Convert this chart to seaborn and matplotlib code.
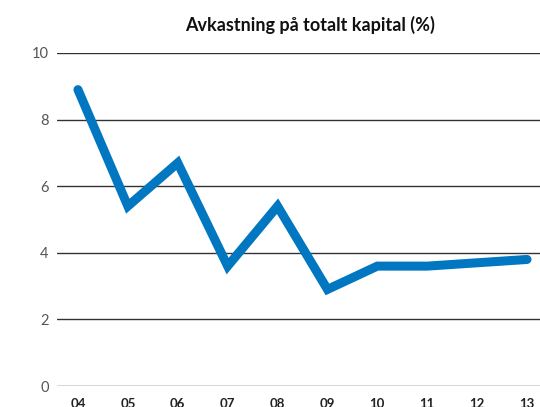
import matplotlib
matplotlib.use("Agg")
import matplotlib.pyplot as plt
import seaborn as sns
import pandas as pd

years = ["04", "05", "06", "07", "08", "09", "10", "11", "12", "13"]
values = [8.9, 5.4, 6.7, 3.6, 5.4, 2.9, 3.6, 3.6, 3.7, 3.8]
yticks = [0, 2, 4, 6, 8, 10]

sns.set_style("white")
plt.rcParams['font.family'] = ['Lato', 'DejaVu Sans']

df = pd.DataFrame({"year": years, "value": values, "pos": range(len(years))})

fig = plt.figure(figsize=(5.4, 4.07), dpi=100)
ax = fig.add_axes([57/540, 1 - 386/407, 1 - 57/540, (386 - 53)/407])

for t in yticks:
    ax.axhline(t, color="#333333", lw=1.0, zorder=1)

sns.lineplot(data=df, x="pos", y="value", ax=ax, color="#0077c0", lw=6.5,
             solid_capstyle="round", solid_joinstyle="miter", zorder=3)

ax.set_xlim(-0.42, 9.26)
ax.set_ylim(0, 10)
ax.set_yticks(yticks)
ax.set_yticklabels([str(t) for t in yticks], color="#555555", fontsize=10.5)
ax.set_xticks(range(len(years)))
ax.set_xticklabels(years, fontsize=9.5, fontweight="bold", color="#222222")
ax.tick_params(axis="both", length=0)
ax.tick_params(axis="y", pad=6)
ax.tick_params(axis="x", pad=9)
ax.set_xlabel("")
ax.set_ylabel("")
for s in ax.spines.values():
    s.set_visible(False)

fig.text(310/540, 1 - 25/407, "Avkastning på totalt kapital (%)", ha="center", va="center",
         fontsize=13, fontweight="bold", color="#111111")

fig.savefig("out.png", dpi=100)
